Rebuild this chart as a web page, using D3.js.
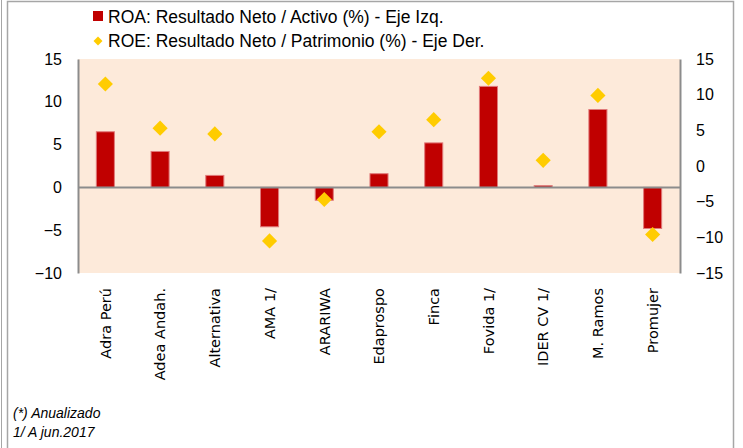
<!DOCTYPE html>
<html>
<head>
<meta charset="utf-8">
<script src="https://cdn.jsdelivr.net/npm/d3@7"></script>
<style>
  body { margin: 0; background: #fff; }
  svg { display: block; }
</style>
</head>
<body>
<div id="chart"></div>
<script>
// ===========================================
// Data
var entidades = ["Adra Perú", "Adea Andah.", "Alternativa", "AMA 1/", "ARARIWA", "Edaprospo",
                 "Finca", "Fovida 1/", "IDER CV 1/", "M. Ramos", "Promujer"];
var roa = [6.5, 4.2, 1.4, -4.6, -1.5, 1.6, 5.2, 11.8, 0.2, 9.1, -4.8];
var roe = [11.5, 5.3, 4.5, -10.5, -4.7, 4.8, 6.5, 12.3, 0.8, 9.9, -9.6];
var ticksIzq = [-10, -5, 0, 5, 10, 15];
var ticksDer = [-15, -10, -5, 0, 5, 10, 15];
var leyenda = ["ROA: Resultado Neto / Activo (%) - Eje Izq.",
               "ROE: Resultado Neto / Patrimonio (%) - Eje Der."];
var notas = ["(*) Anualizado", "1/ A jun.2017"];

// ===========================================
// SVG & chart area
var svgWidth = 743;
var svgHeight = 448;
var plot = {left: 78, right: 680, top: 59, bottom: 273};

var svg = d3.select("#chart")
    .append("svg")
    .attr("width", svgWidth)
    .attr("height", svgHeight);

// frame
svg.append("line").attr("x1", 1.5).attr("x2", 1.5).attr("y1", 0).attr("y2", svgHeight)
    .attr("stroke", "#a6a6a6").attr("stroke-width", 1);
svg.append("path")
    .attr("d", `M7.5,${svgHeight} V1.5 H733.5 V${svgHeight}`)
    .attr("fill", "none").attr("stroke", "#a6a6a6").attr("stroke-width", 1.5);

// plot background
svg.append("rect")
    .attr("x", plot.left).attr("y", plot.top)
    .attr("width", plot.right - plot.left).attr("height", plot.bottom - plot.top)
    .attr("fill", "#fdeada");

// scales
var xscale = d3.scaleBand().domain(entidades).range([plot.left, plot.right]);
var yIzq = d3.scaleLinear().domain([-10, 15]).range([plot.bottom, plot.top]);
var yDer = d3.scaleLinear().domain([-15, 15]).range([plot.bottom, plot.top]);

var barWidth = xscale.bandwidth() * 0.33;

// bars
svg.selectAll("rect.roa")
    .data(roa)
    .enter()
    .append("rect")
    .attr("class", "roa")
    .attr("x", (d, i) => xscale(entidades[i]) + (xscale.bandwidth() - barWidth) / 2)
    .attr("y", d => yIzq(Math.max(0, d)))
    .attr("width", barWidth)
    .attr("height", d => Math.abs(yIzq(d) - yIzq(0)))
    .attr("fill", "#c00000")
    .attr("stroke", "#e07a7a")
    .attr("stroke-width", 1);

// zero line
svg.append("line")
    .attr("x1", plot.left).attr("x2", plot.right)
    .attr("y1", yIzq(0)).attr("y2", yIzq(0))
    .attr("stroke", "#8c8c8c").attr("stroke-width", 2);

// axes
var l_axis = d3.axisLeft(yIzq).tickValues(ticksIzq).tickSize(0).tickPadding(16);
var r_axis = d3.axisRight(yDer).tickValues(ticksDer).tickSize(0).tickPadding(16);

var gl = svg.append("g").attr("transform", `translate(${plot.left},0)`).call(l_axis);
var gr = svg.append("g").attr("transform", `translate(${plot.right},0)`).call(r_axis);

[gl, gr].forEach(function(g) {
    g.select(".domain").attr("stroke", "#8c8c8c").attr("stroke-width", 2);
    g.selectAll("text")
        .attr("font-family", "Liberation Sans, Arial, sans-serif")
        .attr("font-size", "16px")
        .attr("fill", "#000");
});

// category labels
svg.selectAll("text.cat")
    .data(entidades)
    .enter()
    .append("text")
    .attr("class", "cat")
    .attr("transform", d => `translate(${xscale(d) + xscale.bandwidth() / 2}, 288) rotate(-90)`)
    .attr("text-anchor", "end")
    .attr("dy", "0.36em")
    .attr("font-family", "DejaVu Sans, Verdana, sans-serif")
    .attr("font-size", "14.5px")
    .attr("fill", "#000")
    .text(d => d);

// diamonds
var diamond = d3.symbol().type(d3.symbolSquare).size(115);
svg.selectAll("path.roe")
    .data(roe)
    .enter()
    .append("path")
    .attr("class", "roe")
    .attr("d", diamond)
    .attr("transform", (d, i) => `translate(${xscale(entidades[i]) + xscale.bandwidth() / 2},${yDer(d)}) rotate(45)`)
    .attr("fill", "#ffcc00");

// legend
var legend = svg.append("g");
legend.append("rect")
    .attr("x", 93).attr("y", 11).attr("width", 10).attr("height", 10)
    .attr("fill", "#c00000");
legend.append("path")
    .attr("d", d3.symbol().type(d3.symbolSquare).size(40))
    .attr("transform", "translate(98,41) rotate(45)")
    .attr("fill", "#ffcc00");
legend.selectAll("text")
    .data(leyenda)
    .enter()
    .append("text")
    .attr("x", 108)
    .attr("y", (d, i) => 17 + i * 24)
    .attr("dy", "0.35em")
    .attr("font-family", "Liberation Sans, Arial, sans-serif")
    .attr("font-size", "17.5px")
    .attr("fill", "#000")
    .text(d => d);

// footnotes
svg.selectAll("text.nota")
    .data(notas)
    .enter()
    .append("text")
    .attr("class", "nota")
    .attr("x", 13)
    .attr("y", (d, i) => 413 + i * 19)
    .attr("dy", "0.35em")
    .attr("font-family", "Liberation Sans, Arial, sans-serif")
    .attr("font-style", "italic")
    .attr("font-size", "14px")
    .attr("fill", "#000")
    .text(d => d);
</script>
</body>
</html>
